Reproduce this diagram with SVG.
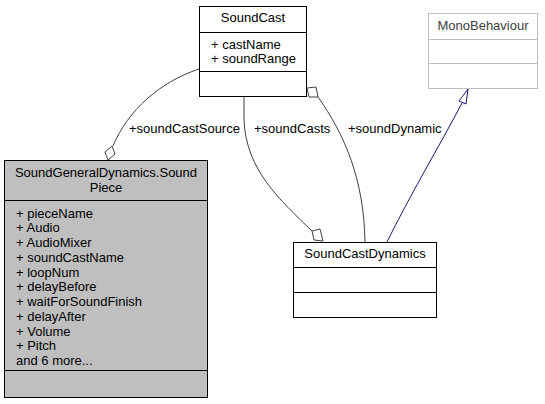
<svg xmlns="http://www.w3.org/2000/svg" width="545" height="404" viewBox="0 0 545 404">
<style>
text{font-family:"Liberation Sans",Arial,sans-serif;font-size:13px;fill:#000}
.c{text-anchor:middle}
.box{fill:#fff;stroke:#000;stroke-width:1}
.gbox{fill:#bfbfbf;stroke:#000;stroke-width:1}
.ext{fill:#fff;stroke:#bfbfbf;stroke-width:1}
.extt{fill:#404040}
.edge{fill:none;stroke:#404040;stroke-width:1}
.dia{fill:#fff;stroke:#404040;stroke-width:1}
.inh{fill:none;stroke:#191970;stroke-width:1}
.tri{fill:#fff;stroke:#191970;stroke-width:1}
</style>
<rect width="545" height="404" fill="#fff"/>
<g id="connectors">
  <path class="edge" d="M199,69 C160,82 128,110 113,146"/>
  <polygon class="dia" points="108,160 105,152 112,146 115,154"/>
  <text x="129" y="133">+soundCastSource</text>
  <path class="edge" d="M244,97 L244,120 C246,170 280,200 312,231"/>
  <polygon class="dia" points="323,241 314,240 312,231 320,229"/>
  <text x="254" y="133">+soundCasts</text>
  <path class="edge" d="M318,97 C345,135 364,180 365,242"/>
  <polygon class="dia" points="307,88 316,87 318,97 309,97"/>
  <text x="348" y="133">+soundDynamic</text>
  <path class="inh" d="M387,242 C410,195 440,145 462,103"/>
  <polygon class="tri" points="468,89 459,101 466,104"/>
</g>
<g id="SoundGeneralDynamics.SoundPiece">
  <rect class="gbox" x="4.5" y="160.5" width="203" height="237"/>
  <line x1="4.5" y1="200.5" x2="207.5" y2="200.5" stroke="#000"/>
  <line x1="4.5" y1="370.5" x2="207.5" y2="370.5" stroke="#000"/>
  <text class="c" x="106" y="177">SoundGeneralDynamics.Sound</text>
  <text class="c" x="106" y="191.5">Piece</text>
  <text x="16" y="217.5">+ pieceName</text>
  <text x="16" y="232.25">+ Audio</text>
  <text x="16" y="247">+ AudioMixer</text>
  <text x="16" y="261.75">+ soundCastName</text>
  <text x="16" y="276.5">+ loopNum</text>
  <text x="16" y="291.25">+ delayBefore</text>
  <text x="16" y="306">+ waitForSoundFinish</text>
  <text x="16" y="320.75">+ delayAfter</text>
  <text x="16" y="335.5">+ Volume</text>
  <text x="16" y="350.25">+ Pitch</text>
  <text x="16" y="365">and 6 more...</text>
</g>
<g id="SoundCast">
  <rect class="box" x="199.5" y="6.5" width="107" height="90"/>
  <line x1="199.5" y1="32.5" x2="306.5" y2="32.5" stroke="#000"/>
  <line x1="199.5" y1="71.5" x2="306.5" y2="71.5" stroke="#000"/>
  <text class="c" x="253" y="22">SoundCast</text>
  <text x="211" y="48.5">+ castName</text>
  <text x="211" y="63">+ soundRange</text>
</g>
<g id="MonoBehaviour">
  <rect class="ext" x="428.5" y="13.5" width="109" height="75"/>
  <line x1="428.5" y1="39.5" x2="537.5" y2="39.5" stroke="#bfbfbf"/>
  <line x1="428.5" y1="63.5" x2="537.5" y2="63.5" stroke="#bfbfbf"/>
  <text class="c extt" x="483" y="30">MonoBehaviour</text>
</g>
<g id="SoundCastDynamics">
  <rect class="box" x="293.5" y="242.5" width="143" height="75"/>
  <line x1="293.5" y1="267.5" x2="436.5" y2="267.5" stroke="#000"/>
  <line x1="293.5" y1="292.5" x2="436.5" y2="292.5" stroke="#000"/>
  <text class="c" x="365" y="258">SoundCastDynamics</text>
</g>
</svg>
